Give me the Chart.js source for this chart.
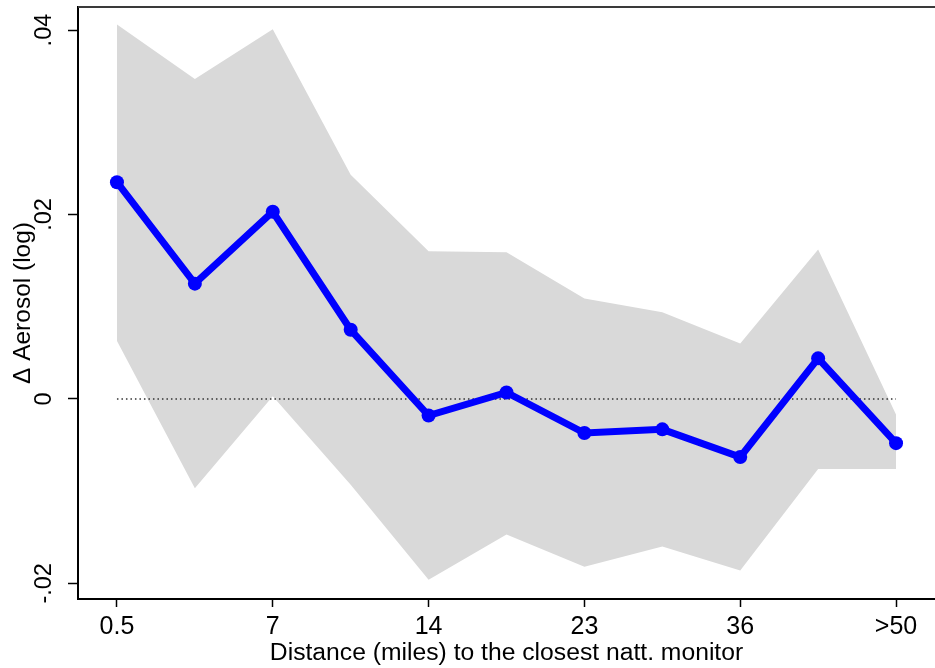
<!DOCTYPE html>
<html>
<head>
<meta charset="utf-8">
<script src="https://cdn.jsdelivr.net/npm/chart.js@4/dist/chart.umd.min.js"></script>
<style>
  html, body { margin: 0; padding: 0; background: #ffffff; overflow: hidden; }
  #wrap { width: 935px; height: 668px; overflow: hidden; position: relative; }
  #box { width: 942px; height: 668px; position: absolute; left: 0; top: 0; }
</style>
</head>
<body>
<div id="wrap"><div id="box"><canvas id="c"></canvas></div></div>
<script>
// Distance bins (position index along the x axis)
const binIndex = [0, 1, 2, 3, 4, 5, 6, 7, 8, 9, 10];
// Point estimates of the change in log aerosol by distance bin
const estimate = [0.0235, 0.0125, 0.0203, 0.0075, -0.0018, 0.0007, -0.0037, -0.0033, -0.0063, 0.0044, -0.0048];
// Confidence interval bounds
const ciUpper = [0.0406, 0.0347, 0.0401, 0.0243, 0.0160, 0.0159, 0.0109, 0.0094, 0.0060, 0.0162, -0.0017];
const ciLower = [0.0063, -0.0097, 0.0003, -0.0093, -0.0196, -0.0147, -0.0182, -0.0160, -0.0186, -0.0076, -0.0076];
// Axis ticks
const xTickPositions = [0, 2, 4, 6, 8, 10];
const xTickLabels = ['0.5', '7', '14', '23', '36', '>50'];
const yTickValues = [-0.02, 0, 0.02, 0.04];
const yTickLabels = ['-.02', '0', '.02', '.04'];

const pts = arr => binIndex.map((x, i) => ({ x: x, y: arr[i] }));
const zeroRef = [{ x: binIndex[0], y: 0 }, { x: binIndex[binIndex.length - 1], y: 0 }];

const FONT = 'Liberation Sans, Arial, Helvetica, sans-serif';

// Top frame line of the plot region
const frameTop = {
  id: 'frameTop',
  afterDraw(chart) {
    const { ctx, chartArea } = chart;
    ctx.save();
    ctx.strokeStyle = '#3a3a3a';
    ctx.lineWidth = 2;
    ctx.beginPath();
    ctx.moveTo(chartArea.left, chartArea.top);
    ctx.lineTo(chartArea.right + 2, chartArea.top);
    ctx.stroke();
    ctx.restore();
  }
};

new Chart(document.getElementById('c'), {
  type: 'line',
  data: {
    datasets: [
      {
        label: 'estimate',
        data: pts(estimate),
        borderColor: '#0000ff',
        backgroundColor: '#0000ff',
        borderWidth: 7,
        pointRadius: 7,
        pointHoverRadius: 7,
        pointBorderWidth: 0,
        fill: false,
        tension: 0,
        order: 0
      },
      {
        label: 'zero',
        data: zeroRef,
        borderColor: '#333333',
        borderWidth: 1.5,
        borderDash: [1.5, 3],
        pointRadius: 0,
        fill: false,
        order: 1
      },
      {
        label: 'upper',
        data: pts(ciUpper),
        borderWidth: 0,
        borderColor: 'rgba(0,0,0,0)',
        backgroundColor: '#d9d9d9',
        pointRadius: 0,
        fill: '+1',
        tension: 0,
        order: 2
      },
      {
        label: 'lower',
        data: pts(ciLower),
        borderWidth: 0,
        borderColor: 'rgba(0,0,0,0)',
        backgroundColor: '#d9d9d9',
        pointRadius: 0,
        fill: false,
        tension: 0,
        order: 3
      }
    ]
  },
  options: {
    responsive: true,
    maintainAspectRatio: false,
    animation: false,
    layout: { padding: { top: 5, right: 2, left: 0, bottom: 0 } },
    plugins: {
      legend: { display: false },
      tooltip: { enabled: false },
      filler: { propagate: false }
    },
    scales: {
      x: {
        type: 'linear',
        min: -0.5,
        max: 10.5,
        afterBuildTicks(scale) {
          scale.ticks = xTickPositions.map(v => ({ value: v }));
        },
        afterFit(scale) {
          scale.height = 69;
          scale.paddingLeft = 0;
          scale.paddingRight = 0;
        },
        ticks: {
          autoSkip: false,
          maxRotation: 0,
          minRotation: 0,
          padding: 5,
          color: '#000000',
          font: { family: FONT, size: 25 },
          callback: (v, i) => xTickLabels[i]
        },
        grid: {
          display: true,
          drawOnChartArea: false,
          drawTicks: true,
          tickLength: 8,
          tickColor: '#000000',
          tickWidth: 1.5
        },
        border: { display: true, color: '#000000', width: 2 },
        title: {
          display: true,
          text: 'Distance (miles) to the closest natt. monitor',
          color: '#000000',
          font: { family: FONT, size: 24.7 },
          padding: { top: 0, bottom: 0 }
        }
      },
      y: {
        type: 'linear',
        min: -0.0217,
        max: 0.0425,
        afterBuildTicks(scale) {
          scale.ticks = yTickValues.map(v => ({ value: v }));
        },
        afterFit(scale) {
          scale.width = 78;
          scale.paddingTop = 0;
          scale.paddingBottom = 0;
        },
        ticks: {
          autoSkip: false,
          minRotation: 90,
          maxRotation: 90,
          crossAlign: 'center',
          padding: 3,
          color: '#000000',
          font: { family: FONT, size: 23.5 },
          callback: (v, i) => yTickLabels[i]
        },
        grid: {
          display: true,
          drawOnChartArea: false,
          drawTicks: true,
          tickLength: 10,
          tickColor: '#000000',
          tickWidth: 1.5
        },
        border: { display: true, color: '#000000', width: 2 },
        title: {
          display: true,
          text: '\u0394 Aerosol (log)',
          color: '#000000',
          font: { family: FONT, size: 24.5 },
          padding: { top: 9, bottom: 0 }
        }
      }
    }
  },
  plugins: [frameTop]
});
</script>
</body>
</html>
